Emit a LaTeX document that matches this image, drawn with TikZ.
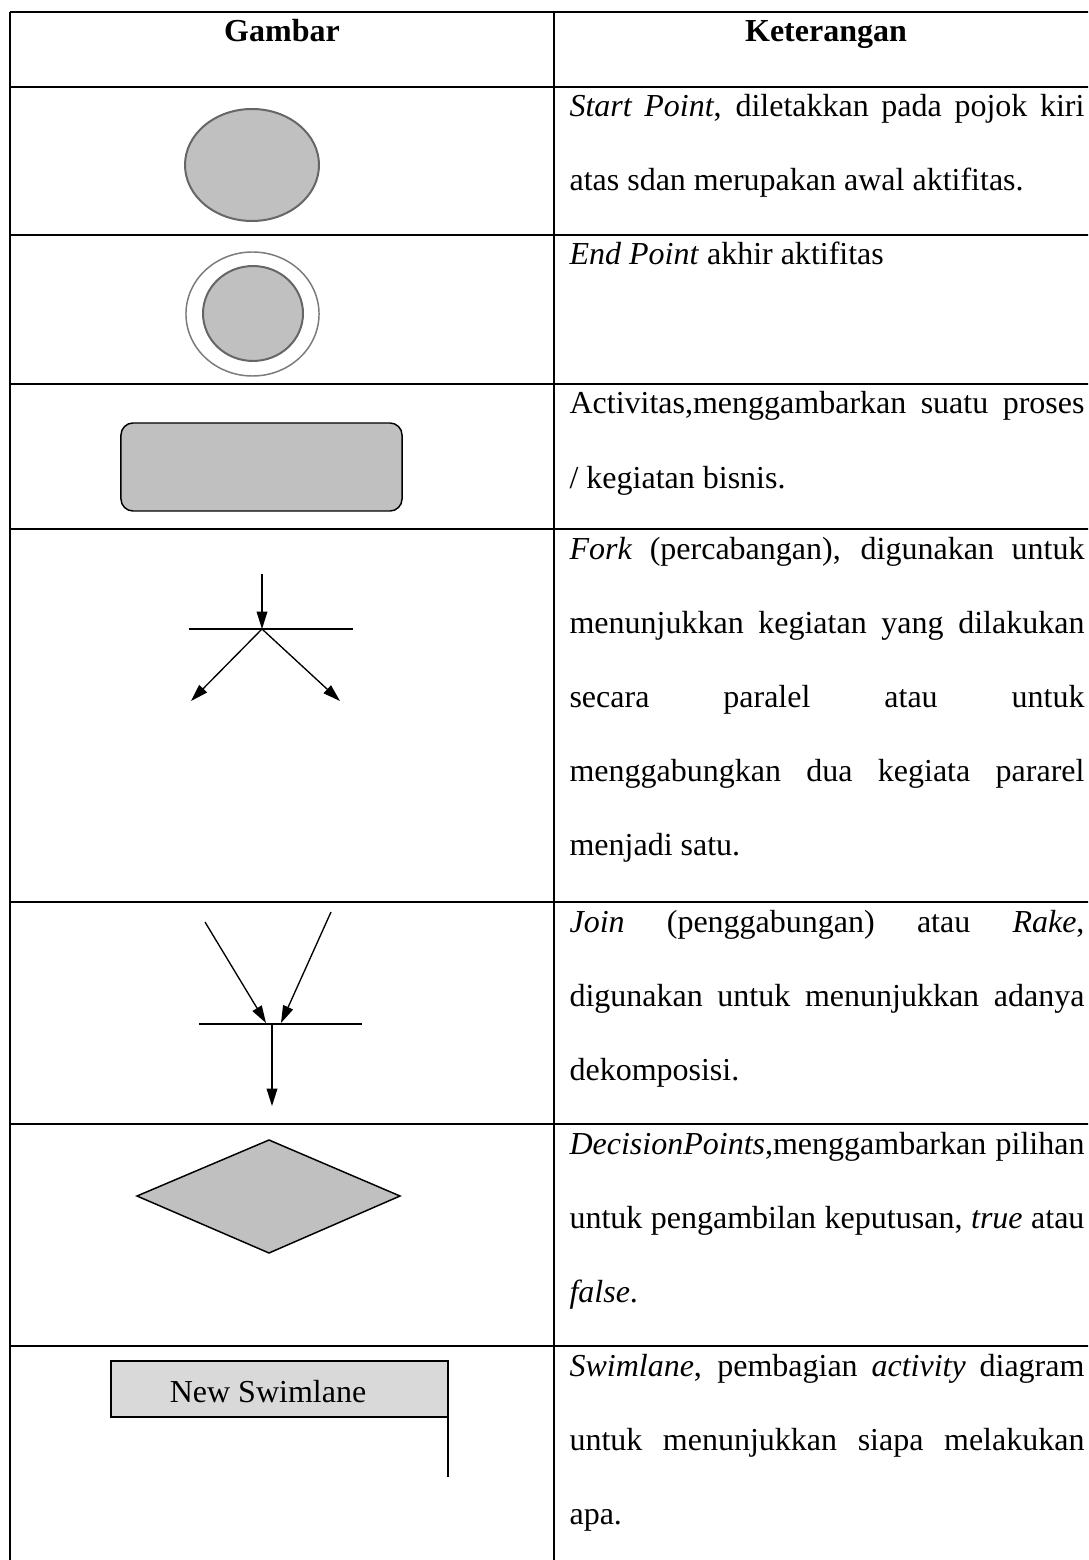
\documentclass[tikz,border=0pt]{standalone}
\usepackage{fontspec}
\setmainfont{Liberation Serif}
\usetikzlibrary{arrows.meta,shapes.geometric}
\definecolor{shapegray}{HTML}{C0C0C0}
\definecolor{rimgray}{HTML}{666666}
\definecolor{ringgray}{HTML}{7A7A7A}
\definecolor{lanegray}{HTML}{D9D9D9}
\newcommand{\jline}[1]{\makebox[193.1pt][s]{#1}}
\begin{document}
\begin{tikzpicture}[x=0.375pt,y=-0.375pt,
  grid/.style={line width=0.6pt,black},
  txt/.style={anchor=base west,inner sep=0pt,font=\fontsize{12}{14}\selectfont},
  hdr/.style={anchor=base,inner sep=0pt,font=\fontsize{12}{14}\selectfont\bfseries},
  gshape/.style={fill=shapegray,draw=black,line width=0.55pt},
  conn/.style={line width=0.5pt,-{Triangle[length=6.5pt,width=4pt]}},
  bar/.style={line width=0.8pt}]
\useasboundingbox (0,0) rectangle (1088,1560);
\clip (0,0) rectangle (1088,1560);

% table grid
\foreach \yy in {12,87,235,384,529,902,1124,1346}
  \draw[grid] (10,\yy) -- (1100,\yy);
\draw[grid] (10,12) -- (10,1570);
\draw[grid] (554,12) -- (554,1570);

% header
\node[hdr] (hg) at (282,42) {Gambar};
\node[hdr] (hk) at (826,42) {Keterangan};

% row 1: start point
\node[ellipse,fill=shapegray,draw=rimgray,line width=0.75pt,inner sep=0pt,
  minimum width=50.25pt,minimum height=42pt] (start) at (252,165) {};
\node[txt] (t1a) at (569,117) {\jline{\textit{Start Point}, diletakkan pada pojok kiri}};
\node[txt] (t1b) at (569,191) {atas sdan merupakan awal aktifitas.};

% row 2: end point
\node[ellipse,fill=white,draw=ringgray,line width=0.55pt,inner sep=0pt,
  minimum width=49.9pt,minimum height=46.5pt] (endo) at (252.5,314) {};
\node[ellipse,fill=shapegray,draw=rimgray,line width=0.75pt,inner sep=0pt,
  minimum width=37.5pt,minimum height=35.6pt] (endi) at (253,313.5) {};
\node[txt] (t2a) at (569,265) {\textit{End Point} akhir aktifitas};

% row 3: activity
\node[gshape,rectangle,rounded corners=4.5pt,inner sep=0pt,
  minimum width=105.4pt,minimum height=33pt] (act) at (261.5,467) {};
\node[txt] (t3a) at (569,414) {\jline{Activitas,menggambarkan suatu proses}};
\node[txt] (t3b) at (569,488) {/ kegiatan bisnis.};

% row 4: fork
\coordinate (ftop) at (262,574);
\coordinate (fmid) at (262,629);
\coordinate (fbl) at (189,629);
\coordinate (fbr) at (353,629);
\coordinate (fl) at (191,701);
\coordinate (fr) at (340,701);
\draw[bar] (fbl) -- (fbr);
\draw[conn] (ftop) -- (fmid);
\draw[conn] (fmid) -- (fl);
\draw[conn] (fmid) -- (fr);
\node[txt] (t4a) at (569,559) {\jline{\textit{Fork} (percabangan), digunakan untuk}};
\node[txt] (t4b) at (569,633) {\jline{menunjukkan kegiatan yang dilakukan}};
\node[txt] (t4c) at (569,707) {\jline{secara paralel atau untuk}};
\node[txt] (t4d) at (569,781) {\jline{menggabungkan dua kegiata pararel}};
\node[txt] (t4e) at (569,855) {menjadi satu.};

% row 5: join
\coordinate (jl) at (205,922);
\coordinate (jr) at (331,912);
\coordinate (jlt) at (266,1023);
\coordinate (jrt) at (281,1023);
\coordinate (jbl) at (199,1024);
\coordinate (jbr) at (362,1024);
\coordinate (jmid) at (272,1024);
\coordinate (jout) at (272,1106);
\draw[bar] (jbl) -- (jbr);
\draw[conn] (jl) -- (jlt);
\draw[conn] (jr) -- (jrt);
\draw[conn] (jmid) -- (jout);
\node[txt] (t5a) at (569,932) {\jline{\textit{Join} (penggabungan) atau \textit{Rake},}};
\node[txt] (t5b) at (569,1006) {\jline{digunakan untuk menunjukkan adanya}};
\node[txt] (t5c) at (569,1080) {dekomposisi.};

% row 6: decision
\coordinate (dt) at (269,1140);
\coordinate (dr) at (400,1196);
\coordinate (db) at (269,1253);
\coordinate (dl) at (137,1196);
\draw[gshape] (dt) -- (dr) -- (db) -- (dl) -- cycle;
\node[txt] (t6a) at (569,1154) {\jline{\textit{DecisionPoints},menggambarkan pilihan}};
\node[txt] (t6b) at (569,1228) {\jline{untuk pengambilan keputusan, \textit{true} atau}};
\node[txt] (t6c) at (569,1302) {\textit{false}.};

% row 7: swimlane
\coordinate (sw1) at (111,1361);
\coordinate (sw2) at (448,1417);
\coordinate (sw3) at (448,1477);
\draw[fill=lanegray,draw=black,line width=0.55pt] (sw1) rectangle (sw2);
\draw[line width=0.5pt] (sw2) -- (sw3);
\node[inner sep=0pt,font=\fontsize{12}{14}\selectfont] (swt) at (268,1392) {New Swimlane};
\node[txt] (t7a) at (569,1376) {\jline{\textit{Swimlane}, pembagian \textit{activity} diagram}};
\node[txt] (t7b) at (569,1450) {\jline{untuk menunjukkan siapa melakukan}};
\node[txt] (t7c) at (569,1524) {apa.};
\end{tikzpicture}
\end{document}
